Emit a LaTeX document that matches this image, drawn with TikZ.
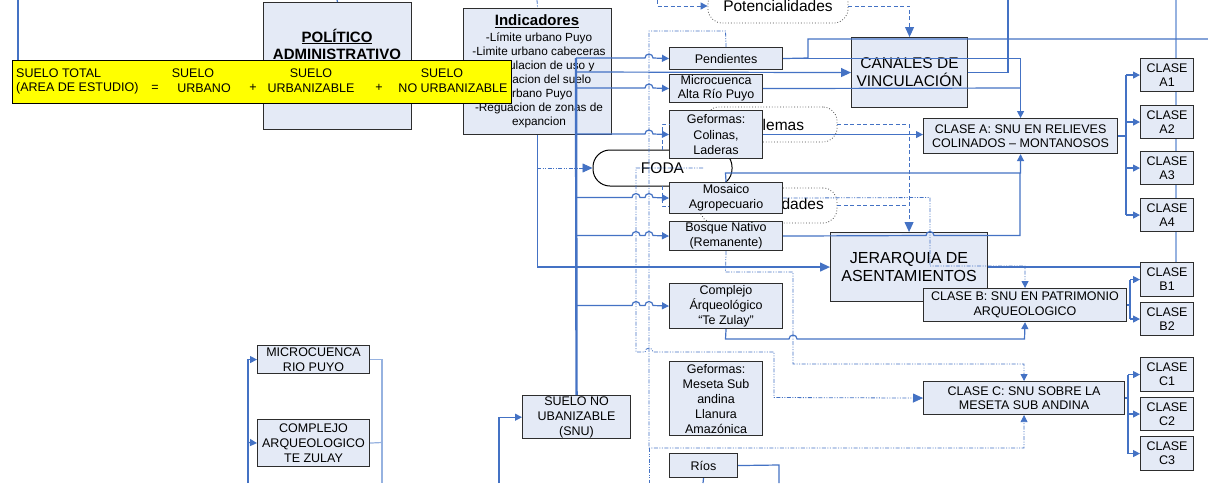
\documentclass[tikz,border=0pt]{standalone}
\usepackage{fontspec}
\setmainfont{Liberation Sans}
\usetikzlibrary{arrows.meta}
\definecolor{bfill}{RGB}{228,234,246}
\definecolor{bdraw}{RGB}{45,45,45}
\definecolor{cblue}{RGB}{68,114,196}
\definecolor{clight}{RGB}{150,178,224}
\definecolor{cyel}{RGB}{255,255,0}
\newcommand{\fsA}{\fontsize{12.5}{14.5}\selectfont}
\newcommand{\fsB}{\fontsize{15.5}{18}\selectfont}
\begin{document}
\begin{tikzpicture}[x=1pt,y=-1pt,
 box/.style={draw=bdraw, fill=bfill, line width=1.1pt, inner sep=1pt, align=center, font=\fsA, anchor=north west},
 con/.style={draw=cblue, line width=1.2pt},
 lcon/.style={draw=clight, line width=1.2pt},
 arr/.style={-{Triangle[length=7pt,width=7pt]}},
 bigarr/.style={-{Triangle[length=10pt,width=9pt]}},
 dd/.style={draw=cblue, line width=0.8pt, dash pattern=on 4pt off 1.5pt on 1pt off 1.5pt on 1pt off 1.5pt},
 dsh/.style={draw=cblue, line width=1pt, dash pattern=on 4pt off 2.5pt},
 shp/.style={draw=black!70, line width=0.8pt, dotted, rounded corners=14pt, font=\fsB, inner sep=0pt},
 yt/.style={font=\fsA, inner sep=0pt},
]
\path[use as bounding box] (0,0) rectangle (1208,483);
\clip (0,0) rectangle (1208,483);
\fill[white] (0,0) rectangle (1208,483);

% --- outline shapes (behind boxes)
\node[shp, minimum width=140pt, minimum height=34pt] (pot) at (778,6) {Potencialidades};
\node[shp, minimum width=132pt, minimum height=35pt] (prob) at (771,124.5) {};
\node[font=\fsB, inner sep=0pt] (probt) at (767,124.5) {Problemas};
\node[shp, minimum width=137pt, minimum height=35pt] (opo) at (768.5,205.5) {};
\node[font=\fsB, inner sep=0pt] (opot) at (773,205.5) {Oportunidades};
\node[draw=black, line width=1pt, rounded corners=17pt, minimum width=139pt, minimum height=36pt, font=\fsB, inner sep=0pt] (foda) at (662.5,168) {FODA};

% light vertical behind CLASE boxes
\draw[lcon] (1176,0) -- (1176,262);

% --- boxes
\node[box, minimum width=148pt, minimum height=127pt] (pol) at (263,2) {};
\node[font=\bfseries\fontsize{15}{17}\selectfont, align=center, inner sep=0pt] (poltxt) at (337,44) {\underline{POLÍTICO}\\ADMINISTRATIVO};
\node[box, minimum width=148pt, minimum height=126pt] (ind) at (463,8) {};
\node[font=\bfseries\fontsize{15}{17}\selectfont, inner sep=0pt] (indt) at (537,21) {\underline{Indicadores}};
\node[font=\fontsize{11.8}{14}\selectfont, align=center, inner sep=0pt] (indb) at (539,80) {-Límite urbano Puyo\\-Limite urbano cabeceras\\-Regulacion de uso y\\ocupacion del suelo\\urbano Puyo\\-Reguacion de zonas de\\expancion};

\node[box, minimum width=116pt, minimum height=70pt, font=\fontsize{15.5}{18}\selectfont] (can) at (851,37) {CANALES DE\\VINCULACIÓN};
\node[box, minimum width=157pt, minimum height=69pt, font=\fontsize{16}{18}\selectfont] (jer) at (830,232) {JERARQUIA DE\\ASENTAMIENTOS};

\node[box, minimum width=113pt, minimum height=22pt] (pend) at (669,47) {Pendientes};
\node[box, minimum width=93pt, minimum height=28pt, font=\fontsize{12.5}{14}\selectfont] (micro) at (669,74) {Microcuenca\\Alta Río Puyo};
\node[box, minimum width=93pt, minimum height=48pt, font=\fontsize{12.5}{15.5}\selectfont] (geo) at (669,110) {Geformas:\\Colinas,\\Laderas};
\node[box, minimum width=113pt, minimum height=31pt, font=\fontsize{12.5}{15}\selectfont] (mos) at (669,182) {Mosaico\\Agropecuario};
\node[box, minimum width=113pt, minimum height=29pt, font=\fontsize{12.5}{15}\selectfont] (bos) at (669,221) {Bosque Nativo\\(Remanente)};
\node[box, minimum width=113pt, minimum height=45pt, font=\fontsize{12.5}{15}\selectfont] (com) at (669,283) {Complejo\\Árqueológico\\“Te Zulay”};
\node[box, minimum width=93pt, minimum height=74pt, font=\fontsize{12.5}{15}\selectfont] (mes) at (669,361) {Geformas:\\Meseta Sub\\andina\\Llanura\\Amazónica};
\node[box, minimum width=68pt, minimum height=24pt] (rios) at (669,453) {Ríos};
\node[box, minimum width=108pt, minimum height=43pt, font=\fontsize{12.5}{15}\selectfont] (snu) at (522,395) {SUELO NO\\UBANIZABLE\\(SNU)};
\node[box, minimum width=112pt, minimum height=28pt, font=\fontsize{12.5}{15}\selectfont] (mrp) at (257,345) {MICROCUENCA\\RIO PUYO};
\node[box, minimum width=112pt, minimum height=47pt, font=\fontsize{12.5}{15}\selectfont] (cat) at (257,419) {COMPLEJO\\ARQUEOLOGICO\\TE ZULAY};

\node[box, minimum width=194pt, minimum height=35pt] (clA) at (923,118) {CLASE A: SNU EN RELIEVES\\COLINADOS – MONTANOSOS};
\node[box, minimum width=203pt, minimum height=33pt] (clB) at (923,288) {CLASE B: SNU EN PATRIMONIO\\ARQUEOLOGICO};
\node[box, minimum width=201pt, minimum height=33pt] (clC) at (923,381) {CLASE C: SNU SOBRE LA\\MESETA SUB ANDINA};

\node[box, minimum width=53pt, minimum height=33pt, font=\fontsize{12.5}{14}\selectfont] (a1) at (1140,58) {CLASE\\A1};
\node[box, minimum width=53pt, minimum height=33pt, font=\fontsize{12.5}{14}\selectfont] (a2) at (1140,105) {CLASE\\A2};
\node[box, minimum width=53pt, minimum height=33pt, font=\fontsize{12.5}{14}\selectfont] (a3) at (1140,151) {CLASE\\A3};
\node[box, minimum width=53pt, minimum height=33pt, font=\fontsize{12.5}{14}\selectfont] (a4) at (1140,198) {CLASE\\A4};
\node[box, minimum width=53pt, minimum height=34pt, font=\fontsize{12.5}{14}\selectfont] (b1) at (1140,262) {CLASE\\B1};
\node[box, minimum width=53pt, minimum height=33pt, font=\fontsize{12.5}{14}\selectfont] (b2) at (1140,302) {CLASE\\B2};
\node[box, minimum width=53pt, minimum height=34pt, font=\fontsize{12.5}{14}\selectfont] (c1) at (1140,357) {CLASE\\C1};
\node[box, minimum width=53pt, minimum height=33pt, font=\fontsize{12.5}{14}\selectfont] (c2) at (1140,397) {CLASE\\C2};
\node[box, minimum width=53pt, minimum height=34pt, font=\fontsize{12.5}{14}\selectfont] (c3) at (1140,436) {CLASE\\C3};

% --- connectors
\coordinate (bA) at (1126,0);
\coordinate (bB) at (1130,0);
\coordinate (bC) at (1128,0);

% trunk and branches
\draw[con, line width=2.4pt] (576,58) -- (snu.north);
\draw[con, arr] (576,58) -- (645,58) arc[start angle=180,end angle=0,radius=4pt] -- (pend.west);
\draw[con, bigarr] (576,72) -- (can.west);
\draw[con, arr] (576,88) -- (645,88) arc[start angle=180,end angle=0,radius=4pt] -- (micro.west);
\draw[con, arr] (576,134) -- (645,134) arc[start angle=180,end angle=0,radius=4pt] -- (geo.west);
\draw[con, arr] (576,197.5) -- (632,197.5) arc[start angle=180,end angle=0,radius=4pt] -- (645,197.5) arc[start angle=180,end angle=0,radius=4pt] -- (mos.west);
\draw[con, arr] (576,235.5) -- (632,235.5) arc[start angle=180,end angle=0,radius=4pt] -- (645,235.5) arc[start angle=180,end angle=0,radius=4pt] -- (bos.west);
\draw[con, arr] (576,305.5) -- (632,305.5) arc[start angle=180,end angle=0,radius=4pt] -- (645,305.5) arc[start angle=180,end angle=0,radius=4pt] -- (com.west);

% indicadores
\draw[con, bigarr] (ind.south) |- (jer.west);
\draw[dd, bigarr] (537,168) -- (foda.west);

% potencialidades
\draw[dsh, arr] (657,0) |- (pot.west);
\draw[dsh, bigarr] (pot.east) -| (can.north);
\draw[con] (1008,0) |- (can.east);

% pendientes / microcuenca -> clase A
\draw[con] (pend.east) -- (808,58) |- (1208,39);
\draw[con, arr] (pend.east) -| (clA.north);
\draw[con] (micro.east) -- (1020,88);
\draw[con, arr] (geo.east) -- (geo.east -| clA.west);
\draw[con, arr] (mos.north) -- (725.5,173) -| (clA.south);
\draw[con] (bos.east) -- (926,235.5) arc[start angle=180,end angle=0,radius=4pt] -- (1020,235.5) -- (1020,173);

% problemas / oportunidades -> jerarquia
\draw[dsh, bigarr] (prob.east) -| (jer.north);
\draw[dsh] (opo.east) -- (908.5,205.5);
\draw[dsh] (662,150) -- (662,124) -- (669,124);
\draw[dsh] (662,186) -- (662,206) -- (669,206);

% dash-dot links
\draw[dd, arr] (mos.east) -- (930,197.5) -- (930,266) -| (clB.north);
\draw[dd, arr] (bos.south) -- (725.5,272) -- (793,272) -- (793,364) -| (clC.north);
\draw[dd, arr] (pend.north) -- (725.5,31) -- (649,31) -- (649,448) -| (clC.south);
\draw[dd] (649,448) -- (649,483);
\draw[dd, bigarr] (703,168) -- (636,168) -- (636,352) -- (645,352) arc[start angle=180,end angle=0,radius=4pt] -- (774,352) -- (774,397.5) -- (clC.west);

% complejo -> clase B
\draw[con, arr] (com.south) -- (725.5,339) -- (789,339) arc[start angle=180,end angle=0,radius=4pt] -- (1024.5,339) -- (clB.south);

% jerarquia -> B1
\draw[con] (jer.east) -- (jer.east -| b1.west);

% brackets to classes
\draw[con] (clA.east) -- (bA |- clA.east);
\draw[con] (bA |- a1.west) -- (bA |- a4.west);
\foreach \n in {a1,a2,a3,a4} \draw[con, arr] (bA |- \n.west) -- (\n.west);
\draw[con] (clB.east) -- (bB |- clB.east);
\draw[con] (bB |- b1.west) -- (bB |- b2.west);
\foreach \n in {b1,b2} \draw[con, arr] (bB |- \n.west) -- (\n.west);
\draw[con] (clC.east) -- (bC |- clC.east);
\draw[con] (bC |- c1.west) -- (bC |- c3.west);
\foreach \n in {c1,c2,c3} \draw[con, arr] (bC |- \n.west) -- (\n.west);

% rios
\draw[con] (rios.east) -- (779,465) -- (779,483);
\draw[con] (rios.south) -- (703,483);

% SNU
\draw[con, arr] (499,483) |- (snu.west);

% bottom-left
\draw[con, arr] (248,483) |- (mrp.west);
\draw[con, arr] (248,442.5) -- (cat.west);
\draw[lcon] (mrp.east) -| (382,483);
\draw[lcon] (cat.east) -- (382,442.5);

% top ticks
\draw[con] (18,0) -- (18,60);
\draw[con] (337,0) -- (pol.north);
\draw[dd] (537,0) -- (ind.north);

% --- yellow equation
\node[draw=black, line width=0.8pt, fill=cyel, anchor=north west, minimum width=499pt, minimum height=43pt, inner sep=0pt] (yel) at (12,60) {};
\node[yt, anchor=west] (y1) at (16,73) {SUELO TOTAL};
\node[yt, anchor=west] (y2) at (16,88) {(AREA DE ESTUDIO)};
\node[yt] (y3) at (155,88) {=};
\node[yt] (y4) at (193,73) {SUELO};
\node[yt] (y5) at (204,88) {URBANO};
\node[yt] (y6) at (253,88) {+};
\node[yt] (y7) at (311,73) {SUELO};
\node[yt] (y8) at (311,88) {URBANIZABLE};
\node[yt] (y9) at (379,88) {+};
\node[yt] (y10) at (442,73) {SUELO};
\node[yt] (y11) at (453,88) {NO URBANIZABLE};
\end{tikzpicture}
\end{document}
